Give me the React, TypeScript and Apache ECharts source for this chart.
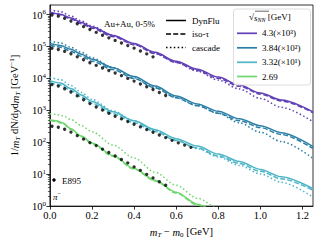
import React, { useEffect, useRef } from "react";
import * as echarts from "echarts";

// ---- data ----
const energyLabels = ["4.3(×10³)", "3.84(×10²)", "3.32(×10¹)", "2.69"];
const scales = [1000, 100, 10, 1];
const colors = ["#6141b5", "#2b7fa6", "#4db5c6", "#6fd66f"];

const modelX = [0, 0.05, 0.1, 0.15, 0.2, 0.3, 0.4, 0.5, 0.6, 0.7, 0.8, 0.9, 1.0, 1.1, 1.25];
const greenX = [0, 0.03, 0.06, 0.1, 0.15, 0.2, 0.3, 0.4, 0.5, 0.6, 0.7, 0.8];

const dynflu43 = [1194, 1035, 778, 564, 408, 222, 125, 65.8, 34.5, 19.5, 11.0, 6.19, 3.5, 2.12, 0.9];
const iso43 = [1150, 990, 730, 520, 375, 203, 114, 60, 31.5, 17.8, 10.1, 5.7, 3.25, 1.97, 0.84];
const casc43 = [1429, 1239, 897, 627, 438, 222, 117, 61.2, 32.1, 16.9, 8.87, 4.66, 2.36, 1.24, 0.438];

const dynflu384 = [1253, 1086, 815, 570, 399, 217, 114, 57.7, 28.2, 15.9, 9.29, 5.43, 3.3, 2.0, 0.733];
const iso384 = [1090, 950, 710, 495, 347, 189, 99, 50.5, 24.7, 13.9, 8.1, 4.75, 2.88, 1.75, 0.64];
const casc384 = [1500, 1300, 942, 658, 444, 217, 106, 51.9, 25.4, 14.3, 8.05, 4.08, 2.07, 1.05, 0.31];

const dynflu332 = [855, 716, 483, 303, 190, 89.7, 47.1, 24.8, 13.0, 7.6, 4.29, 2.51, 1.41, 0.826, 0.35];
const iso332 = [744, 623, 420, 264, 165, 78, 41, 21.6, 11.3, 6.6, 3.73, 2.18, 1.23, 0.72, 0.31];
const casc332 = [1099, 919, 598, 362, 220, 96.4, 47.1, 23.0, 11.7, 6.35, 3.46, 1.88, 1.02, 0.557, 0.19];

const dynflu269 = [506, 471, 408, 266, 156, 94.2, 38.5, 15.2, 6.43, 2.72, 1.15, 0.489];
const iso269 = [480, 447, 388, 252, 148, 89, 36.5, 14.4, 6.1, 2.58, 1.09, 0.46];
const casc269 = [778, 740, 674, 517, 330, 214, 81.6, 32.2, 11.4, 4.5, 1.77, 0.7];

const e895X = [0.01, 0.04, 0.07, 0.1, 0.13, 0.16, 0.19, 0.22, 0.25, 0.28, 0.31, 0.34, 0.37, 0.4, 0.43, 0.46, 0.49, 0.52, 0.55, 0.58, 0.61, 0.64, 0.67];
const e895_43 = [970, 891, 760, 627, 516, 420, 341, 277, 225, 187, 155, 129, 107, 88.9, 72.3, 58.6, 47.6];
const e895_384 = [883, 809, 702, 592, 476, 385, 310, 256, 213, 177, 148, 122, 100, 82.6, 67.1, 55.0, 45.0, 36.2, 29.2];
const e895_332 = [643, 577, 475, 376, 284, 215, 163, 127, 102, 81.3, 65.5, 54.0, 44.5, 36.7, 30.3, 24.9, 20.6, 16.9, 14.0, 11.5, 9.59, 8.16, 6.95];
const e895_269 = [318, 296, 256, 207, 161, 125, 97.5, 78.7, 61.2, 47.7, 37.2, 28.9, 22.5, 16.9, 13.2, 9.88, 7.69, 5.78, 4.5];

const xTicks = [0, 0.2, 0.4, 0.6, 0.8, 1.0, 1.2];
const yTicks = [1, 10, 100, 1000, 10000, 100000, 1000000];

const SERIF = "Liberation Serif";

export default function App() {
  const ref = useRef<HTMLDivElement>(null);
  useEffect(() => {
    if (!ref.current) return;
    const chart = echarts.init(ref.current, undefined, { renderer: "svg" });

    const groups = [
      { x: modelX, dyn: dynflu43, iso: iso43, casc: casc43, pts: e895_43 },
      { x: modelX, dyn: dynflu384, iso: iso384, casc: casc384, pts: e895_384 },
      { x: modelX, dyn: dynflu332, iso: iso332, casc: casc332, pts: e895_332 },
      { x: greenX, dyn: dynflu269, iso: iso269, casc: casc269, pts: e895_269 },
    ];

    const minorTicks: number[] = [];
    for (let k = 0; k < 6; k++) for (let m = 2; m <= 9; m++) minorTicks.push(m * Math.pow(10, k));

    const series: any[] = [];
    groups.forEach((g, i) => {
      const styles: any[] = [
        { arr: g.dyn, type: "solid" },
        { arr: g.iso, type: [5, 2.2] },
        { arr: g.casc, type: [1.5, 2.4] },
      ];
      styles.forEach((s) => {
        series.push({
          type: "line",
          data: g.x.map((xv, j) => [xv, s.arr[j] * scales[i]]),
          showSymbol: false,
          smooth: 0.3,
          smoothMonotone: "x",
          lineStyle: { color: colors[i], width: 1.5, type: s.type, cap: "butt" },
          z: 2,
          clip: true,
          silent: true,
        });
      });
      series.push({
        type: "scatter",
        data: g.pts.map((v, j) => [e895X[j], v * scales[i]]),
        symbol: "circle",
        symbolSize: 3.3,
        itemStyle: { color: "#000" },
        z: 4,
        silent: true,
      });
    });

    const supRich = {
      b: { fontSize: 10.5, fontFamily: SERIF, color: "#000", lineHeight: 12, verticalAlign: "bottom" },
      s: { fontSize: 7, fontFamily: SERIF, color: "#000", lineHeight: 7, padding: [0, 0, 5, 0], verticalAlign: "bottom" },
    };

    const nameRich = {
      n: { fontSize: 10.5, fontFamily: SERIF, color: "#000", lineHeight: 13, verticalAlign: "bottom" },
      i: { fontSize: 10.5, fontFamily: SERIF, fontStyle: "italic", color: "#000", lineHeight: 13, verticalAlign: "bottom" },
      sub: { fontSize: 7, fontFamily: SERIF, fontStyle: "italic", color: "#000", lineHeight: 7, verticalAlign: "bottom", padding: [0, 0, 0, 0] },
      sub0: { fontSize: 7, fontFamily: SERIF, color: "#000", lineHeight: 7, verticalAlign: "bottom" },
      sup: { fontSize: 7, fontFamily: SERIF, color: "#000", lineHeight: 7, verticalAlign: "bottom", padding: [0, 0, 6, 0] },
    };

    const legendTextStyle = { fontSize: 9, fontFamily: SERIF, fill: "#000", verticalAlign: "middle", align: "left" };
    const leftLegend = [
      { label: "DynFlu", dash: null, y: 20.5 },
      { label: "iso-τ", dash: [5, 2.2], y: 34 },
      { label: "cascade", dash: [1.5, 2.4], y: 47.5 },
    ];
    const legendYs = [33.3, 47.8, 62.3, 76.5];

    const graphic: any[] = [
      {
        type: "text", x: 104, y: 23.5,
        style: { ...legendTextStyle, text: "Au+Au, 0-5%" },
      },
      ...leftLegend.flatMap((l) => [
        {
          type: "line",
          shape: { x1: 166, y1: l.y, x2: 186, y2: l.y },
          style: { stroke: "#000", lineWidth: 1.5, lineDash: l.dash || undefined },
        },
        { type: "text", x: 192, y: l.y, style: { ...legendTextStyle, text: l.label } },
      ]),
      {
        type: "rect",
        shape: { x: 233.5, y: 9, width: 77, height: 76, r: 3 },
        style: { fill: "rgba(255,255,255,0.85)", stroke: "#d4d4d4", lineWidth: 0.8 },
        z: 10,
      },
      {
        type: "text", x: 249, y: 17, z: 11,
        style: {
          text: "√{i|s}{sub|NN} [GeV]",
          fontSize: 9, fontFamily: SERIF, fill: "#000", verticalAlign: "middle", align: "left",
          rich: {
            i: { fontSize: 9, fontFamily: SERIF, fontStyle: "italic", fill: "#000", lineHeight: 11, verticalAlign: "bottom" },
            sub: { fontSize: 6, fontFamily: SERIF, fontStyle: "italic", fill: "#000", lineHeight: 6, verticalAlign: "bottom" },
          },
        },
      },
      {
        type: "line", z: 11,
        shape: { x1: 255, y1: 11.2, x2: 269, y2: 11.2 },
        style: { stroke: "#000", lineWidth: 0.6 },
      },
      ...legendYs.flatMap((y, i) => [
        {
          type: "line", z: 11,
          shape: { x1: 237, y1: y, x2: 257, y2: y },
          style: { stroke: colors[i], lineWidth: 1.7 },
        },
        { type: "text", x: 262, y, z: 11, style: { ...legendTextStyle, text: energyLabels[i] } },
      ]),
      { type: "circle", shape: { cx: 54, cy: 180, r: 1.7 }, style: { fill: "#000" } },
      { type: "text", x: 62, y: 180.5, style: { ...legendTextStyle, text: "E895" } },
      {
        type: "text", x: 53, y: 196,
        style: {
          text: "{i|π}{s|−}",
          fontSize: 9, fontFamily: SERIF, fill: "#000", verticalAlign: "middle", align: "left",
          rich: {
            i: { fontSize: 9, fontFamily: SERIF, fontStyle: "italic", fill: "#000", lineHeight: 11, verticalAlign: "bottom" },
            s: { fontSize: 6.5, fontFamily: SERIF, fill: "#000", lineHeight: 6.5, verticalAlign: "bottom", padding: [0, 0, 5, 0] },
          },
        },
      },
    ];

    const option: any = {
      animation: false,
      backgroundColor: "#fff",
      grid: {
        left: 41, right: 6, top: 5, bottom: 35,
        show: true, borderColor: "#000", borderWidth: 0.8, backgroundColor: "transparent",
      },
      xAxis: {
        type: "value", min: 0, max: 1.25,
        axisLine: { show: true, onZero: false, lineStyle: { color: "#000", width: 0.8 } },
        axisTick: { show: true, length: 3.5, lineStyle: { color: "#000", width: 0.8 }, customValues: xTicks },
        axisLabel: {
          customValues: xTicks,
          formatter: (v: number) => v.toFixed(1),
          fontSize: 10.5, fontFamily: SERIF, color: "#000", margin: 4,
        },
        splitLine: { show: false },
        name: "{i|m}{sub|T} − {i|m}{sub0|0} [GeV]",
        nameLocation: "middle",
        nameGap: 16,
        nameTextStyle: { fontSize: 10.5, fontFamily: SERIF, color: "#000", rich: nameRich },
      },
      yAxis: [
        {
          type: "log", logBase: 10, min: 1, max: 2e6,
          axisLine: { show: true, lineStyle: { color: "#000", width: 0.8 } },
          axisTick: { show: true, length: 3.5, lineStyle: { color: "#000", width: 0.8 }, customValues: yTicks },
          axisLabel: {
            customValues: yTicks,
            formatter: (v: number) => `{b|10}{s|${Math.round(Math.log10(v))}}`,
            rich: supRich, margin: 4,
          },
          splitLine: { show: false },
          name: "1/{i|m}{sub|T} dN/d{i|y}d{i|m}{sub|T} [GeV{sup|−1}]",
          nameLocation: "middle",
          nameGap: 24,
          nameTextStyle: { fontSize: 10.5, fontFamily: SERIF, color: "#000", rich: nameRich },
        },
        {
          type: "log", logBase: 10, min: 1, max: 2e6, position: "left",
          axisLine: { show: false },
          axisTick: { show: true, length: 2, lineStyle: { color: "#000", width: 0.6 }, customValues: minorTicks },
          axisLabel: { show: false },
          splitLine: { show: false },
        },
      ],
      series,
      graphic,
    };
    chart.setOption(option);
    return () => chart.dispose();
  }, []);

  return <div ref={ref} style={{ position: "fixed", left: 0, top: 0, width: 319, height: 243 }} />;
}
